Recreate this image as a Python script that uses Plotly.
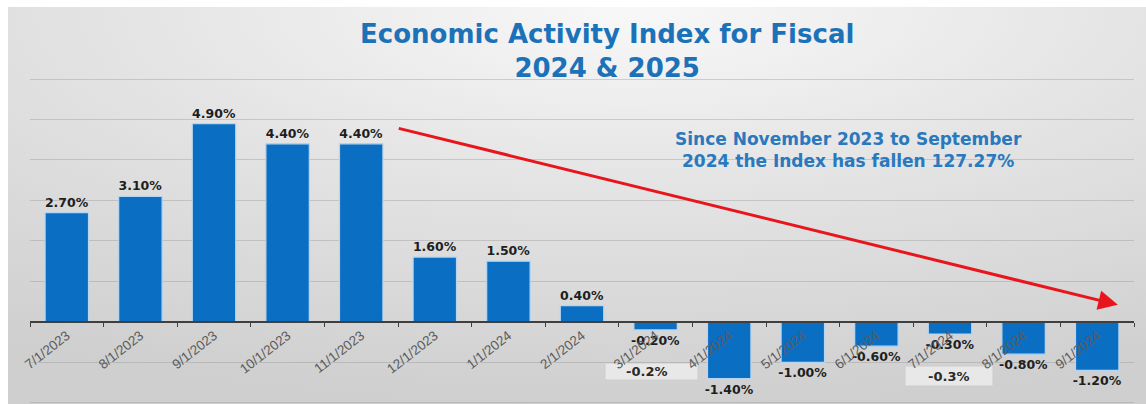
import base64
import plotly.graph_objects as go

# ---- data ----
months = ["7/1/2023", "8/1/2023", "9/1/2023", "10/1/2023", "11/1/2023", "12/1/2023",
          "1/1/2024", "2/1/2024", "3/1/2024", "4/1/2024", "5/1/2024", "6/1/2024",
          "7/1/2024", "8/1/2024", "9/1/2024"]
index_change = [2.7, 3.1, 4.9, 4.4, 4.4, 1.6, 1.5, 0.4, -0.2, -1.4, -1.0, -0.6, -0.3, -0.8, -1.2]
side_notes = ["-0.2%", "-0.3%"]
title_lines = ["Economic Activity Index for Fiscal", "2024 & 2025"]
callout = "Since November 2023 to September<br>2024 the Index has fallen 127.27%"

# ---- layout geometry ----
W, H = 1146, 404
ML, MR, MT, MB = 30, 12, 77, 0
yrange = [-2.03, 6.05]
PW, PH = W - ML - MR, H - MT - MB


def px(xp):
    return (xp - ML) / PW


def py(yp):
    return (H - MB - yp) / PH


svg = """<svg xmlns='http://www.w3.org/2000/svg' width='1000' height='400' preserveAspectRatio='none'>
<defs><radialGradient id='g' cx='0.55' cy='0' r='1.0' fx='0.55' fy='0'>
<stop offset='0' stop-color='#f8f8f8'/><stop offset='0.45' stop-color='#e4e4e4'/>
<stop offset='1' stop-color='#cfcfcf'/></radialGradient></defs>
<rect width='1000' height='400' fill='url(#g)'/></svg>"""
bg_uri = "data:image/svg+xml;base64," + base64.b64encode(svg.encode()).decode()

fig = go.Figure()
fig.add_trace(go.Bar(
    x=months, y=index_change,
    marker=dict(color="#0a6fc2", line=dict(color="#b7d5f0", width=1.2)),
    texttemplate="%{y:.2f}%", textposition="outside", constraintext="none",
    textfont=dict(family="DejaVu Sans", size=12.5, color="#1e1e1e", weight="bold"),
    cliponaxis=False, hoverinfo="skip",
))

title_font = dict(family="DejaVu Sans", size=26, color="#1c72b8", weight="bold")
annotations = [
    dict(text="<br>".join(title_lines), x=px(607), y=py(51), xref="paper", yref="paper",
         showarrow=False, xanchor="center", yanchor="middle", align="center",
         font=title_font),
    dict(text=callout, x=px(848), y=py(150), xref="paper", yref="paper",
         showarrow=False, xanchor="center", yanchor="middle", align="center",
         font=dict(family="DejaVu Sans", size=17, color="#2a78bd", weight="bold")),
    dict(text="", x=14.28, y=0.42, ax=4.49, ay=4.79, xref="x", yref="y",
         axref="x", ayref="y", showarrow=True, arrowhead=2, arrowsize=1.3,
         arrowwidth=3, arrowcolor="#e8161c"),
]
# annotation-style boxes
boxes = [(605, 363, 698, 380, 646), (905, 366, 993, 386, 948)]
shapes = []
for (x0, y0, x1, y1, tx), note in zip(boxes, side_notes):
    shapes.append(dict(type="rect", xref="paper", yref="paper",
                       x0=px(x0), x1=px(x1), y0=py(y1), y1=py(y0),
                       fillcolor="#e8e8e8", line=dict(color="#cdcdcd", width=1),
                       layer="below"))
    annotations.append(dict(text=note, x=px(tx), y=py((y0 + y1) / 2), xref="paper",
                            yref="paper", showarrow=False, xanchor="center",
                            yanchor="middle",
                            font=dict(family="DejaVu Sans", size=13, color="#2a2a2a",
                                      weight="bold")))

fig.update_layout(
    width=W, height=H, margin=dict(l=ML, r=MR, t=MT, b=MB, pad=0),
    paper_bgcolor="white", plot_bgcolor="rgba(0,0,0,0)",
    showlegend=False, bargap=0.41,
    annotations=annotations, shapes=shapes,
    images=[dict(source=bg_uri, xref="paper", yref="paper",
                 x=px(8), y=py(7), sizex=px(W) - px(8), sizey=py(7) - py(H),
                 xanchor="left", yanchor="top", sizing="stretch", layer="below")],
    xaxis=dict(type="category", anchor="free",
               position=(0 - yrange[0]) / (yrange[1] - yrange[0]),
               showline=True, linecolor="#3f3f3f", linewidth=1.5,
               ticks="outside", tickson="boundaries", ticklen=4, tickcolor="#3f3f3f",
               tickangle=-38, showgrid=False,
               tickfont=dict(family="Liberation Sans", size=13.5, color="#5a5a5a")),
    yaxis=dict(range=yrange, showticklabels=False, showgrid=True, dtick=1, tick0=0,
               gridcolor="rgba(140,140,140,0.35)", gridwidth=1, zeroline=False,
               showline=False, ticks=""),
)

fig.write_html("out.html")
